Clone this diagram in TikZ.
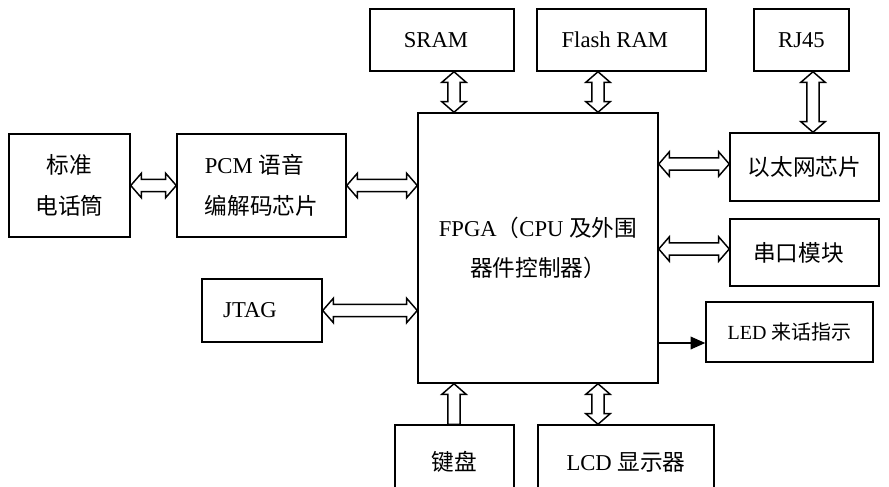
\documentclass[tikz,border=0pt]{standalone}
\usepackage{fontspec}
\setmainfont{Liberation Serif}
\newfontfamily\cjk{Noto Sans CJK SC}
\usetikzlibrary{calc,arrows.meta}
\newcommand\zhtext[1]{{\cjk #1}}
\def\arrL{8pt}
\def\arrW{9.2pt}
\def\arrS{4.6pt}
\newcommand\harrow[2]{\draw[hollow] let \p1=#1, \p2=#2 in (\x1,\y1) -- (\x1+\arrL,\y1+\arrW) -- (\x1+\arrL,\y1+\arrS) -- (\x2-\arrL,\y1+\arrS) -- (\x2-\arrL,\y1+\arrW) -- (\x2,\y1) -- (\x2-\arrL,\y1-\arrW) -- (\x2-\arrL,\y1-\arrS) -- (\x1+\arrL,\y1-\arrS) -- (\x1+\arrL,\y1-\arrW) -- cycle;}
\newcommand\varrow[2]{\draw[hollow] let \p1=#1, \p2=#2 in (\x1,\y1) -- (\x1+\arrW,\y1-\arrL) -- (\x1+\arrS,\y1-\arrL) -- (\x1+\arrS,\y2+\arrL) -- (\x1+\arrW,\y2+\arrL) -- (\x1,\y2) -- (\x1-\arrW,\y2+\arrL) -- (\x1-\arrS,\y2+\arrL) -- (\x1-\arrS,\y1-\arrL) -- (\x1-\arrW,\y1-\arrL) -- cycle;}
\newcommand\uparrowhollow[2]{\draw[hollow] let \p1=#1, \p2=#2 in (\x1,\y1) -- (\x1+\arrW,\y1-\arrL) -- (\x1+\arrS,\y1-\arrL) -- (\x1+\arrS,\y2) -- (\x1-\arrS,\y2) -- (\x1-\arrS,\y1-\arrL) -- (\x1-\arrW,\y1-\arrL) -- cycle;}
\begin{document}
\begin{tikzpicture}[x=0.75pt,y=-0.75pt,
  box/.style={draw,line width=1.1pt,inner sep=0pt,font=\fontsize{17}{31}\selectfont},
  hollow/.style={draw,fill=white,line width=1.1pt,line join=miter},
  solidarrow/.style={draw,line width=1.1pt,-{Triangle[length=11pt,width=9.5pt]}}]
\useasboundingbox (0,0) rectangle (889,486);
\clip (0,0) rectangle (889,486);
% boxes
\node[box,minimum width=90.75pt,minimum height=77.25pt,align=center] (tel) at (69.5,185.5) {\zhtext{标准}\\\zhtext{电话筒}};
\node[box,minimum width=126.75pt,minimum height=77.25pt,align=left] (pcm) at (261.5,185.5) {PCM \zhtext{语音}\\\zhtext{编解码芯片}};
\node[box,minimum width=180pt,minimum height=202.5pt,align=center,font=\fontsize{17}{30}\selectfont] (fpga) at (538,248) {FPGA\zhtext{（}CPU \zhtext{及外围}\\\zhtext{器件控制器）}};
\node[box,minimum width=108pt,minimum height=46.5pt] (sram) at (442,40) {SRAM\kern9pt};
\node[box,minimum width=126.75pt,minimum height=46.5pt] (flash) at (621.5,40) {Flash RAM\kern10pt};
\node[box,minimum width=71.25pt,minimum height=46.5pt] (rj45) at (801.5,40) {RJ45};
\node[box,minimum width=111.75pt,minimum height=51pt] (eth) at (804.5,167) {\zhtext{以太网芯片}};
\node[box,minimum width=111.75pt,minimum height=50.25pt] (serial) at (804.5,252.5) {\zhtext{串口模块}\kern9pt};
\node[box,minimum width=125.25pt,minimum height=45pt,font=\fontsize{15}{18}\selectfont] (led) at (789.5,332) {LED \zhtext{来话指示}};
\node[box,minimum width=90pt,minimum height=47.25pt] (jtag) at (262,310.5) {JTAG\kern18pt};
\node[box,minimum width=89.25pt,minimum height=55.5pt] (kbd) at (454.5,462) {\zhtext{键盘}};
\node[box,minimum width=132pt,minimum height=55.5pt] (lcd) at (626,462) {LCD \zhtext{显示器}};
% connector positions
\coordinate (xa) at (454,0);
\coordinate (xb) at (598,0);
\coordinate (xc) at (813,0);
\coordinate (ya) at (0,164);
\coordinate (yb) at (0,249);
\coordinate (yc) at (0,343);
% connectors
\harrow{(tel.east)}{(pcm.west)}
\harrow{(pcm.east)}{(fpga.west |- pcm.east)}
\harrow{(jtag.east)}{(fpga.west |- jtag.east)}
\harrow{(fpga.east |- ya)}{(eth.west |- ya)}
\harrow{(fpga.east |- yb)}{(serial.west |- yb)}
\varrow{(sram.south -| xa)}{(fpga.north -| xa)}
\varrow{(flash.south -| xb)}{(fpga.north -| xb)}
\varrow{(rj45.south -| xc)}{(eth.north -| xc)}
\varrow{(fpga.south -| xb)}{(lcd.north -| xb)}
\uparrowhollow{(fpga.south -| xa)}{(kbd.north -| xa)}
\draw[solidarrow] (fpga.east |- yc) -- (led.west |- yc);
\end{tikzpicture}
\end{document}
